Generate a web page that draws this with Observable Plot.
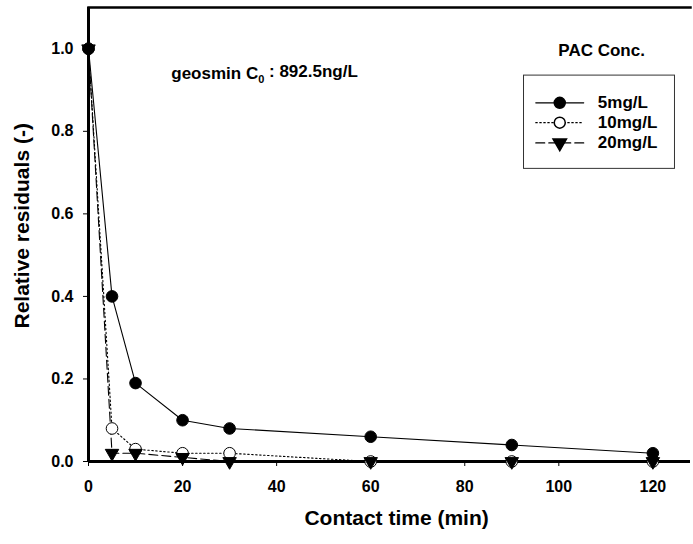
<!DOCTYPE html>
<html>
<head>
<meta charset="utf-8">
<script src="https://cdn.jsdelivr.net/npm/d3@7"></script>
<script src="https://cdn.jsdelivr.net/npm/@observablehq/plot@0.6"></script>
<style>
  html, body { margin: 0; padding: 0; background: #fff; }
  svg { font-family: "Liberation Sans", Arial, sans-serif; }
</style>
</head>
<body>
<div id="chart"></div>
<script>
// ---- data ----
const times = [0, 5, 10, 20, 30, 60, 90, 120];
const pac5  = [1.0, 0.40, 0.19, 0.10, 0.08, 0.06, 0.04, 0.02];
const pac10 = [1.0, 0.08, 0.03, 0.02, 0.02, 0.0, 0.0, 0.0];
const pac20 = [1.0, 0.02, 0.02, 0.01, 0.0, 0.0, 0.0, 0.0];
const seriesNames = ["5mg/L", "10mg/L", "20mg/L"];
const xTicks = [0, 20, 40, 60, 80, 100, 120];
const yTicks = [0.0, 0.2, 0.4, 0.6, 0.8, 1.0];
const legendTitle = "PAC Conc.";
const annotation = "geosmin C0 : 892.5ng/L";
const xTitle = "Contact time (min)";
const yTitle = "Relative residuals (-)";

// ---- build table ----
const seriesValues = [pac5, pac10, pac20];
const rows = [];
seriesNames.forEach((s, i) => times.forEach((t, j) => rows.push({series: s, t, v: seriesValues[i][j]})));
const bySeries = s => rows.filter(d => d.series === s);

// styles
const dashes = {"5mg/L": null, "10mg/L": "1.5,2.5", "20mg/L": "9,4"};
const fills = {"5mg/L": "black", "10mg/L": "white", "20mg/L": "black"};
const symbols = {"5mg/L": "circle", "10mg/L": "circle", "20mg/L": "triangle"};
const drawOrder = ["10mg/L", "20mg/L", "5mg/L"];

// legend layout (data units)
const lg = {x0: 95.1, x1: 105.3, xm: 100.2, xt: 108.3, ys: [0.869, 0.821, 0.772],
            box: {x1: 92.6, x2: 124.7, y1: 0.709, y2: 0.935}, titleX: 109.1, titleY: 0.996};
const legendRows = seriesNames.map((s, i) => ({series: s, y: lg.ys[i]}));

const marks = [];
// lines
drawOrder.forEach(s => {
  marks.push(Plot.line(bySeries(s), {x: "t", y: "v", stroke: "black", strokeWidth: 1.1, strokeDasharray: dashes[s]}));
});
// axes
marks.push(Plot.axisX({ticks: xTicks, tickSize: 5, tickPadding: 14, tickFormat: d => d, fontSize: 16, fontWeight: "bold", label: null}));
marks.push(Plot.axisY({ticks: yTicks, tickSize: 5, tickPadding: 10, tickFormat: d3.format(".1f"), fontSize: 16, fontWeight: "bold", label: null}));
// frame (left, bottom heavy; top thinner; right edge runs off the picture)
marks.push(Plot.frame({anchor: "top", stroke: "black", strokeWidth: 2.5}));
marks.push(Plot.ruleX([0], {stroke: "black", strokeWidth: 3}));
marks.push(Plot.ruleY([0], {stroke: "black", strokeWidth: 3}));
// markers
drawOrder.forEach(s => {
  if (symbols[s] === "circle") {
    marks.push(Plot.dot(bySeries(s), {x: "t", y: "v", r: 5.8, fill: fills[s], stroke: "black", strokeWidth: 1}));
  } else {
    marks.push(Plot.dot(bySeries(s), {x: "t", y: "v", r: 5, symbol: "triangle", rotate: 180, fill: "black", stroke: "black", strokeWidth: 1}));
  }
});
// axis titles
marks.push(Plot.text([xTitle], {x: 65.5, frameAnchor: "bottom", dy: 63, text: d => d, fontSize: 21, fontWeight: "bold", textAnchor: "middle"}));
marks.push(Plot.text([yTitle], {y: 0.571, frameAnchor: "left", dx: -66, rotate: -90, text: d => d, fontSize: 21, fontWeight: "bold", textAnchor: "middle"}));
// annotation
marks.push(Plot.text([annotation], {x: 17.6, y: 0.939, text: d => d, textAnchor: "start", fontSize: 17, fontWeight: "bold", className: "annot"}));
// legend
marks.push(Plot.text([legendTitle], {x: lg.titleX, y: lg.titleY, text: d => d, fontSize: 17, fontWeight: "bold"}));
marks.push(Plot.rect([lg.box], {x1: "x1", x2: "x2", y1: "y1", y2: "y2", fill: "none", stroke: "#333", strokeWidth: 1}));
legendRows.forEach(r => {
  marks.push(Plot.line([{x: lg.x0, y: r.y}, {x: lg.x1, y: r.y}], {x: "x", y: "y", stroke: "black", strokeWidth: 1.1, strokeDasharray: dashes[r.series]}));
  if (symbols[r.series] === "circle") {
    marks.push(Plot.dot([r], {x: () => lg.xm, y: "y", r: 5.5, fill: fills[r.series], stroke: "black"}));
  } else {
    marks.push(Plot.dot([r], {x: () => lg.xm, y: "y", r: 5, symbol: "triangle", rotate: 180, fill: "black", stroke: "black"}));
  }
  marks.push(Plot.text([r], {x: () => lg.xt, y: "y", text: "series", textAnchor: "start", fontSize: 17, fontWeight: "bold"}));
});

const chart = Plot.plot({
  width: 693, height: 544,
  marginLeft: 88, marginRight: 3, marginTop: 7, marginBottom: 83,
  x: {domain: [0, 128]},
  y: {domain: [0, 1.1]},
  style: {fontFamily: "'Liberation Sans', Arial, sans-serif", color: "black", background: "white", overflow: "visible"},
  marks
});
document.getElementById("chart").appendChild(chart);

// subscript in annotation
d3.select(chart).selectAll(".annot text").each(function() {
  const t = d3.select(this);
  const txt = t.text();
  const parts = txt.split("C0");
  t.text(null);
  t.append("tspan").text(parts[0] + "C");
  t.append("tspan").attr("font-size", 11).attr("dy", "0.35em").text("0");
  t.append("tspan").attr("dy", "-0.35em").text(" " + parts[1].trimStart());
});
</script>
</body>
</html>
